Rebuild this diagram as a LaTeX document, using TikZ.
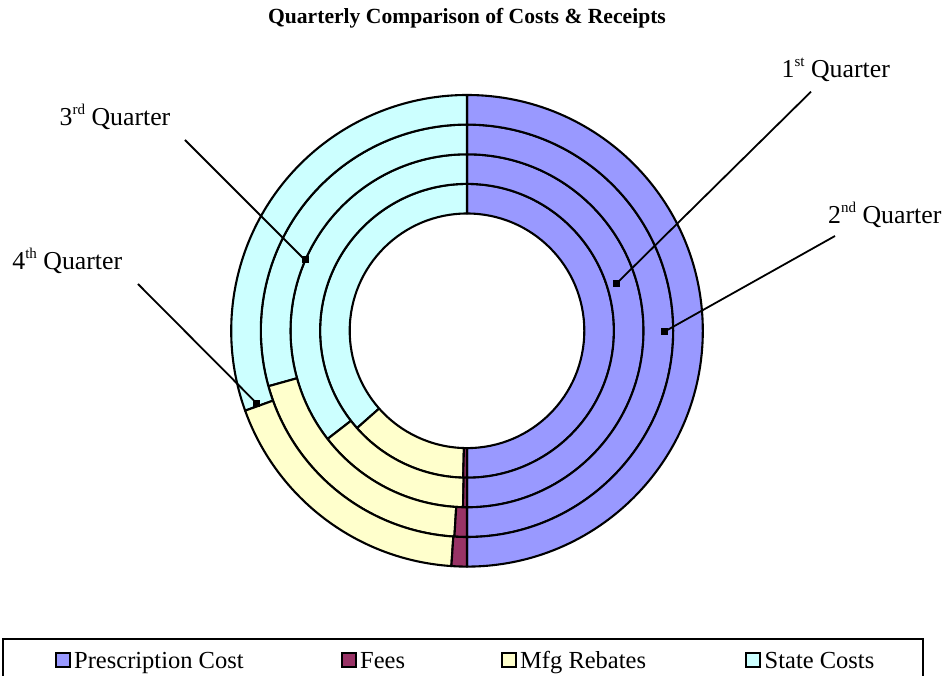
\documentclass[tikz,border=0pt]{standalone}
\usepackage{fontspec}
\setmainfont{Liberation Serif}
\definecolor{presc}{HTML}{9999FF}
\definecolor{fees}{HTML}{993366}
\definecolor{rebate}{HTML}{FFFFCC}
\definecolor{state}{HTML}{CCFFFF}
\tikzset{
 seg/.style={draw=black, line width=2.1pt, line join=round},
 lbl/.style={anchor=base west, inner sep=0pt, font=\fontsize{25.8}{30}\selectfont},
 leader/.style={draw=black, line width=1.8pt},
 marker/.style={fill=black, rectangle, minimum size=7pt, inner sep=0pt},
 legsq/.style={draw=black, line width=2pt, rectangle, minimum size=14pt, inner sep=0pt},
 legtxt/.style={anchor=base west, inner sep=0pt, font=\fontsize{24.5}{29}\selectfont},
 legbox/.style={draw=black, line width=1.2pt},
}
\newcommand\annsec[5]{% colour, inner r, outer r, start, end
  \filldraw[seg, fill=#1] (#4:#2pt) arc[start angle=#4, end angle=#5, radius=#2pt]
    -- (#5:#3pt) arc[start angle=#5, end angle=#4, radius=#3pt] -- cycle;}
\newcommand\qsup[1]{\raisebox{11pt}{\fontsize{15}{15}\selectfont #1}}
\begin{document}
\begin{tikzpicture}[x=1pt,y=1pt]
\useasboundingbox (0,0) rectangle (948,675);
% title
\node[font=\bfseries\fontsize{21.6}{25}\selectfont, anchor=base, inner sep=0pt] (title) at (467,651) {Quarterly Comparison of Costs \& Receipts};
% doughnut
\begin{scope}[shift={(467,344.2)}]
 % ring 1
 \annsec{presc}{117.3}{146.9}{-90}{90}
 \annsec{state}{117.3}{146.9}{90}{221.5}
 \annsec{rebate}{117.3}{146.9}{221.5}{268.5}
 \annsec{fees}{117.3}{146.9}{268.5}{270}
 % ring 2
 \annsec{presc}{146.9}{176.5}{-90}{90}
 \annsec{state}{146.9}{176.5}{90}{217.8}
 \annsec{rebate}{146.9}{176.5}{217.8}{268.7}
 \annsec{fees}{146.9}{176.5}{268.7}{270}
 % ring 3
 \annsec{presc}{176.5}{206.2}{-90}{90}
 \annsec{state}{176.5}{206.2}{90}{195.6}
 \annsec{rebate}{176.5}{206.2}{195.6}{266.5}
 \annsec{fees}{176.5}{206.2}{266.5}{270}
 % ring 4
 \annsec{presc}{206.2}{235.8}{-90}{90}
 \annsec{state}{206.2}{235.8}{90}{199.8}
 \annsec{rebate}{206.2}{235.8}{199.8}{266.2}
 \annsec{fees}{206.2}{235.8}{266.2}{270}
\end{scope}
% labels
\node[lbl] (q1) at (781.5,597.7) {1\qsup{st} Quarter};
\node[lbl] (q2) at (828,451.7) {2\qsup{nd} Quarter};
\node[lbl] (q3) at (59.5,549.5) {3\qsup{rd} Quarter};
\node[lbl] (q4) at (12.2,405.7) {4\qsup{th} Quarter};
% leader lines
\coordinate (s1) at (811,583.3);
\coordinate (s2) at (835,439);
\coordinate (s3) at (185,535);
\coordinate (s4) at (138,391);
\node[marker] (m1) at (616.7,391.7) {};
\node[marker] (m2) at (664.3,343.3) {};
\node[marker] (m3) at (305,415) {};
\node[marker] (m4) at (256.7,271.7) {};
\draw[leader] (s1) -- (m1.center);
\draw[leader] (s2) -- (m2.center);
\draw[leader] (s3) -- (m3.center);
\draw[leader] (s4) -- (m4.center);
% legend
\draw[legbox] (3,-2) rectangle (923,36);
\node[legsq, fill=presc] (k1) at (62.5,15) {};
\node[legtxt] (t1) at (74,7) {Prescription Cost};
\node[legsq, fill=fees] (k2) at (348.7,15) {};
\node[legtxt] (t2) at (360,7) {Fees};
\node[legsq, fill=rebate] (k3) at (508.7,15) {};
\node[legtxt] (t3) at (520,7) {Mfg Rebates};
\node[legsq, fill=state] (k4) at (753,15) {};
\node[legtxt] (t4) at (764.5,7) {State Costs};
\end{tikzpicture}
\end{document}
